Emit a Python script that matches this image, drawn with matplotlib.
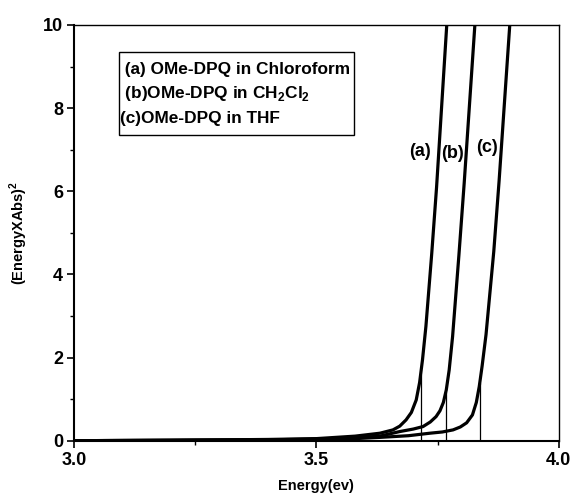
import matplotlib
matplotlib.use('Agg')
import matplotlib.pyplot as plt
from matplotlib.patches import Rectangle
from matplotlib.ticker import MultipleLocator, FormatStrFormatter

plt.rcParams['font.family'] = ['Liberation Sans', 'DejaVu Sans']
plt.rcParams['font.weight'] = 'bold'
plt.rcParams['mathtext.fontset'] = 'custom'
plt.rcParams['mathtext.rm'] = 'Liberation Sans:bold'
plt.rcParams['mathtext.bf'] = 'Liberation Sans:bold'

# curve (a) chloroform
a_x = [3.00, 3.20, 3.40, 3.50, 3.58, 3.631, 3.658, 3.672, 3.685, 3.696, 3.706,
       3.713, 3.719, 3.726, 3.738, 3.748, 3.769]
a_y = [0.00, 0.01, 0.03, 0.05, 0.11, 0.18, 0.26, 0.35, 0.50, 0.68, 0.98,
       1.40, 1.95, 2.75, 4.50, 6.10, 10.0]
# curve (b) CH2Cl2
b_x = [3.00, 3.20, 3.40, 3.50, 3.58, 3.631, 3.672, 3.700, 3.720, 3.735, 3.747,
       3.755, 3.762, 3.768, 3.774, 3.781, 3.794, 3.805, 3.827]
b_y = [0.00, 0.01, 0.02, 0.04, 0.07, 0.11, 0.22, 0.28, 0.34, 0.45, 0.58,
       0.72, 0.92, 1.22, 1.70, 2.50, 4.45, 6.20, 10.0]
# curve (c) THF
c_x = [3.00, 3.20, 3.40, 3.50, 3.58, 3.631, 3.690, 3.734, 3.760, 3.782, 3.797,
       3.810, 3.822, 3.830, 3.836, 3.842, 3.850, 3.866, 3.877, 3.899]
c_y = [0.00, 0.01, 0.02, 0.03, 0.05, 0.08, 0.12, 0.18, 0.21, 0.26, 0.33,
       0.43, 0.62, 0.92, 1.30, 1.80, 2.55, 4.55, 6.25, 10.0]

# band gap markers
gap_x = [3.715, 3.767, 3.837]
gap_y = [1.58, 1.17, 1.38]

curve_labels = ['(a)', '(b)', '(c)']
label_x = [3.713, 3.781, 3.852]
label_y = [6.95, 6.90, 7.05]

legend_lines = [' (a) OMe-DPQ in Chloroform',
                r' (b)OMe-DPQ in CH$_2$Cl$_2$',
                '(c)OMe-DPQ in THF']

fig = plt.figure(figsize=(5.76, 5.04), dpi=100)
ax = fig.add_axes([0.1285, 0.1256, 0.8415, 0.8248])

for xs, ys in [(a_x, a_y), (b_x, b_y), (c_x, c_y)]:
    ax.plot(xs, ys, color='black', lw=2.3, solid_capstyle='round', solid_joinstyle='round')

ax.vlines(gap_x, 0, gap_y, colors='black', lw=0.9)

for lab, lx, ly in zip(curve_labels, label_x, label_y):
    ax.text(lx, ly, lab, ha='center', va='center', fontsize=13, fontweight='bold')

ax.add_patch(Rectangle((0.0928, 0.735), 0.484, 0.2, transform=ax.transAxes,
                       fill=False, edgecolor='black', lw=1.0))
ax.text(0.095, 0.892, legend_lines[0], transform=ax.transAxes, va='center', fontsize=12.4)
ax.text(0.095, 0.836, legend_lines[1], transform=ax.transAxes, va='center', fontsize=12.4)
ax.text(0.095, 0.776, legend_lines[2], transform=ax.transAxes, va='center', fontsize=12.4)

ax.set_xlim(3.0, 4.0)
ax.set_ylim(0, 10)
ax.xaxis.set_major_locator(MultipleLocator(0.5))
ax.xaxis.set_minor_locator(MultipleLocator(0.25))
ax.xaxis.set_major_formatter(FormatStrFormatter('%.1f'))
ax.yaxis.set_major_locator(MultipleLocator(2))
ax.yaxis.set_minor_locator(MultipleLocator(1))
ax.tick_params(which='major', direction='out', length=5, width=1.2, labelsize=13, pad=3)
ax.tick_params(which='minor', direction='out', length=3, width=1.0)
for lab in ax.get_xticklabels() + ax.get_yticklabels():
    lab.set_fontweight('bold')

ax.spines['left'].set_linewidth(1.5)
ax.spines['bottom'].set_linewidth(1.5)
ax.spines['top'].set_linewidth(1.0)
ax.spines['right'].set_linewidth(1.0)

ax.set_xlabel('Energy(ev)', fontsize=10.5, fontweight='bold', labelpad=7)
ax.set_ylabel(r'(EnergyXAbs)$^2$', fontsize=10.5, fontweight='bold', labelpad=9)

fig.savefig('out.png', dpi=100)
